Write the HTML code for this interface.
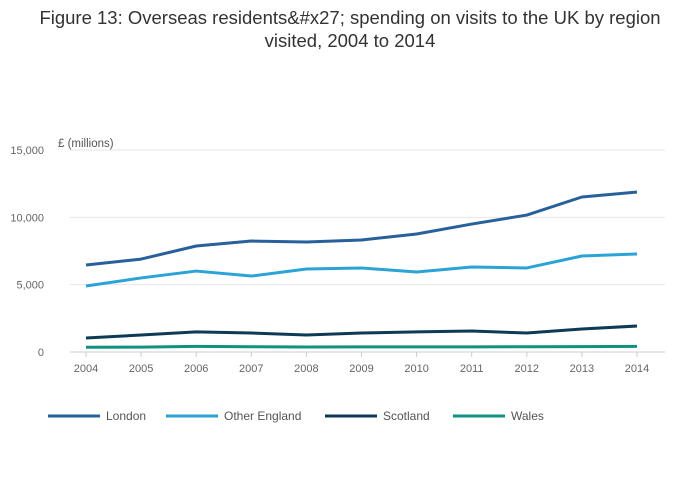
<!DOCTYPE html>
<html><head><meta charset="utf-8"><style>
body{margin:0;background:#fff;font-family:"Liberation Sans",sans-serif;}
#wrap{position:relative;width:700px;height:502px;overflow:hidden;}
#title{position:absolute;top:6px;left:0;width:700px;text-align:center;font-size:18.5px;color:#333;line-height:23px;}
</style></head><body>
<div id="wrap">
<div id="title">Figure 13: Overseas residents&amp;#x27; spending on visits to the UK by region<br>visited, 2004 to 2014</div>
<svg id="svg" width="700" height="502" style="position:absolute;left:0;top:0"></svg>
</div>
<script>
const years=[2004,2005,2006,2007,2008,2009,2010,2011,2012,2013,2014];
const london=[6460,6900,7870,8240,8170,8320,8760,9500,10170,11510,11880];
const otherEngland=[4900,5500,6010,5640,6160,6240,5940,6310,6240,7130,7280];
const scotland=[1040,1260,1490,1410,1260,1410,1490,1560,1410,1710,1930];
const wales=[350,360,420,390,370,380,380,380,390,400,420];
const yTicks=[0,5000,10000,15000];
const yTickLabels=["0","5,000","10,000","15,000"];
const seriesNames=["London","Other England","Scotland","Wales"];
const seriesColors=["#27609b","#2ca3d6","#0d3a55","#11917e"];
const seriesData=[london,otherEngland,scotland,wales];
const NS="http://www.w3.org/2000/svg";
const svg=document.getElementById('svg');
const x0=86,x1=637,yB=352,yT=150,yMax=15000;
const xs=i=>x0+(x1-x0)*i/(years.length-1);
const ys=v=>yB-(yB-yT)*v/yMax;
function mk(t,a){const e=document.createElementNS(NS,t);for(const k in a)e.setAttribute(k,a[k]);svg.appendChild(e);return e;}
yTicks.forEach((t,i)=>{
 const g=mk('line',{x1:70,x2:665,y1:ys(t),y2:ys(t),stroke:i==0?'#ccc':'#e6e6e6','stroke-width':1});
 
 
 const l=mk('text',{x:44,y:ys(t)+4,'text-anchor':'end','font-size':11,fill:'#666'});
 l.textContent=yTickLabels[i];
 
 
});
const yl=mk('text',{x:58,y:147,'font-size':11.5,fill:'#555'});
yl.textContent='£ (millions)';


years.forEach((y,i)=>{
 const tk=mk('line',{x1:xs(i),x2:xs(i),y1:352,y2:357,stroke:'#ccc'});
 
 
 const l=mk('text',{x:xs(i),y:372,'text-anchor':'middle','font-size':11,fill:'#666'});
 l.textContent=y;
 
 
});
seriesData.forEach((d,s)=>{
 const p=mk('polyline',{points:d.map((v,i)=>xs(i)+','+ys(v)).join(' '),fill:'none',stroke:seriesColors[s],'stroke-width':3,'stroke-linejoin':'round'});
 
 
});
const lx=[48,166,325,453];
seriesNames.forEach((n,s)=>{
 const l=mk('line',{x1:lx[s],x2:lx[s]+52,y1:416,y2:416,stroke:seriesColors[s],'stroke-width':3});
 
 
 const t=mk('text',{x:lx[s]+58,y:420,'font-size':12,fill:'#555'});
 t.textContent=n;
 
 
});
</script>
</body></html>
